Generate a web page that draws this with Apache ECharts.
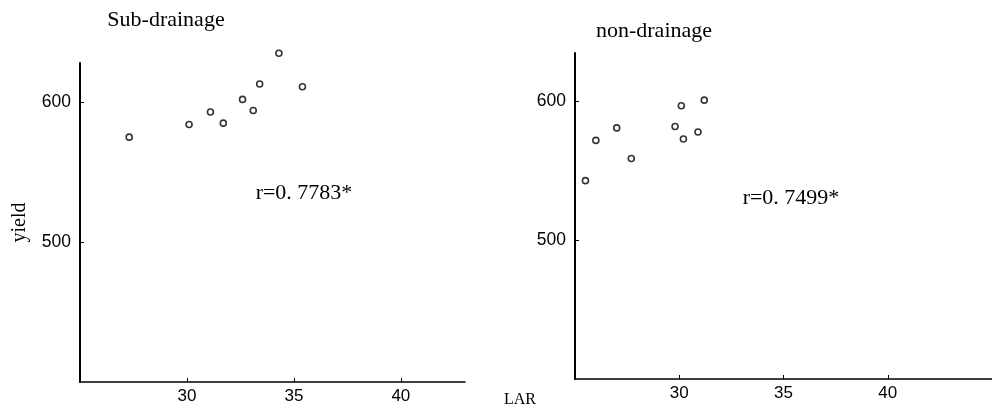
<!DOCTYPE html>
<html>
<head>
<meta charset="utf-8">
<script src="https://cdn.jsdelivr.net/npm/echarts@6/dist/echarts.min.js"></script>
<style>
  html, body { margin: 0; padding: 0; background: #fff; }
  #chart { width: 992px; height: 410px; }
</style>
</head>
<body>
<div id="chart"></div>
<script>
// LAR (x) and yield (y)
const subLar   = [27.3, 30.1, 31.1, 31.7, 32.6, 33.1, 33.4, 34.3, 35.4];
const subYield = [575, 584, 593, 585, 602, 594, 613, 635, 611];
const nonLar   = [25.5, 26.0, 27.0, 27.7, 29.8, 30.1, 30.2, 30.9, 31.2];
const nonYield = [543, 572, 581, 559, 582, 597, 573, 578, 601];
const xTicks = [30, 35, 40];
const yTicks = [500, 600];

const toPairs = (xs, ys) => xs.map((x, i) => [x, ys[i]]);

const serif = '"Liberation Serif", "DejaVu Serif", serif';
const sans = '"Liberation Sans", Arial, sans-serif';

const axisLine = w => ({ show: true, onZero: false, lineStyle: { color: '#000', width: w } });

function xAxisOf(gridIndex, max) {
  return {
    type: 'value', gridIndex: gridIndex, min: 25, max: max,
    splitLine: { show: false },
    axisLine: axisLine(1.5),
    axisTick: { show: true, inside: true, length: 4, customValues: xTicks, lineStyle: { color: '#000' } },
    axisLabel: { customValues: xTicks, color: '#000', fontFamily: sans, fontSize: 17, margin: 6 }
  };
}

function yAxisOf(gridIndex, max, name) {
  return {
    type: 'value', gridIndex: gridIndex, min: 400, max: max,
    name: name, nameLocation: 'middle', nameRotate: 90, nameGap: 50,
    nameTextStyle: { color: '#000', fontFamily: serif, fontSize: 20 },
    splitLine: { show: false },
    axisLine: axisLine(2),
    axisTick: { show: true, inside: true, length: 4, customValues: yTicks, lineStyle: { color: '#000' } },
    axisLabel: { customValues: yTicks, color: '#000', fontFamily: sans, fontSize: 17.5, margin: 9 }
  };
}

function scatterOf(idx, data) {
  return {
    type: 'scatter', xAxisIndex: idx, yAxisIndex: idx, clip: false,
    symbol: 'circle', symbolSize: 6, data: data,
    itemStyle: { color: '#fff', borderColor: '#000', borderWidth: 1.6 }
  };
}

const chart = echarts.init(document.getElementById('chart'));
chart.setOption({
  backgroundColor: '#fff',
  animation: false,
  grid: [
    { left: 80, top: 63, right: 527, bottom: 28 },
    { left: 575, top: 53, right: -7, bottom: 31 }
  ],
  xAxis: [xAxisOf(0, 43), xAxisOf(1, 45)],
  yAxis: [yAxisOf(0, 628, 'yield'), yAxisOf(1, 635, '')],
  series: [
    scatterOf(0, toPairs(subLar, subYield)),
    scatterOf(1, toPairs(nonLar, nonYield))
  ],
  graphic: [
    { type: 'text', x: 166, y: 20, style: { text: 'Sub-drainage', fontFamily: serif, fontSize: 22, fill: '#000', align: 'center', verticalAlign: 'middle' } },
    { type: 'text', x: 654, y: 31, style: { text: 'non-drainage', fontFamily: serif, fontSize: 22, fill: '#000', align: 'center', verticalAlign: 'middle' } },
    { type: 'text', x: 304, y: 193, style: { text: 'r=0. 7783*', fontFamily: serif, fontSize: 22, fill: '#000', align: 'center', verticalAlign: 'middle' } },
    { type: 'text', x: 791, y: 198, style: { text: 'r=0. 7499*', fontFamily: serif, fontSize: 22, fill: '#000', align: 'center', verticalAlign: 'middle' } },
    { type: 'text', x: 520, y: 400, style: { text: 'LAR', fontFamily: serif, fontSize: 16, fill: '#000', align: 'center', verticalAlign: 'middle' } }
  ]
});
</script>
</body>
</html>
